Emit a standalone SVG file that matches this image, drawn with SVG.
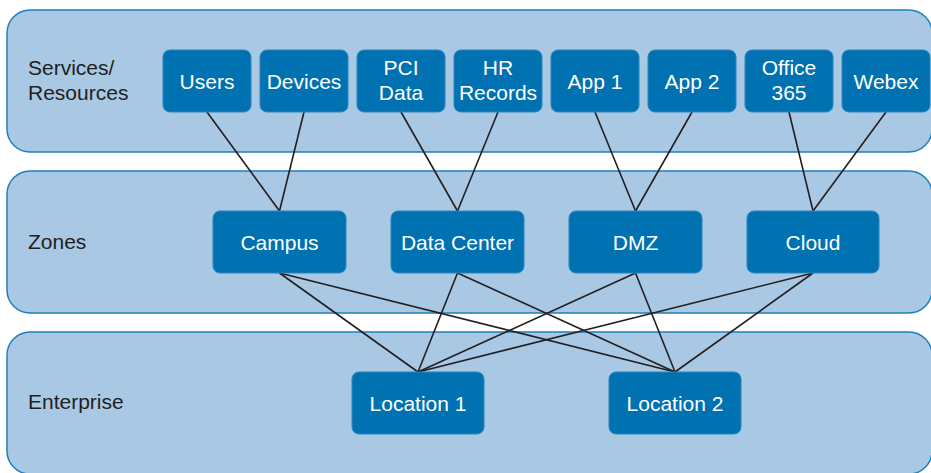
<svg xmlns="http://www.w3.org/2000/svg" width="931" height="473" viewBox="0 0 931 473">
<style>
.band{fill:#a8c8e4;stroke:#1f7fc0;stroke-width:1.5}
.node rect{fill:#0072b1;stroke:#2a85bf;stroke-width:1}
.node text{fill:#ffffff;font-family:"Liberation Sans",Arial,sans-serif;font-size:21px;text-anchor:middle}
.lbl{fill:#231f20;font-family:"Liberation Sans",Arial,sans-serif;font-size:21px}
.conn line{stroke:#231f20;stroke-width:1.6}
</style>
<rect width="931" height="473" fill="#ffffff"/>
<g id="bands">
<rect class="band" x="7" y="10" width="925" height="142" rx="23"/>
<rect class="band" x="7" y="171" width="925" height="142" rx="23"/>
<rect class="band" x="7" y="332" width="925" height="142" rx="23"/>
<text class="lbl" x="28" y="75">Services/</text>
<text class="lbl" x="28" y="100">Resources</text>
<text class="lbl" x="28" y="249">Zones</text>
<text class="lbl" x="28" y="409">Enterprise</text>
</g>
<g id="connectors" class="conn">
<line x1="207" y1="112" x2="279.5" y2="211"/>
<line x1="304" y1="112" x2="279.5" y2="211"/>
<line x1="401" y1="112" x2="457.5" y2="211"/>
<line x1="498" y1="112" x2="457.5" y2="211"/>
<line x1="595" y1="112" x2="635.5" y2="211"/>
<line x1="692" y1="112" x2="635.5" y2="211"/>
<line x1="789" y1="112" x2="813" y2="211"/>
<line x1="886" y1="112" x2="813" y2="211"/>
<line x1="279.5" y1="273" x2="418" y2="372"/>
<line x1="279.5" y1="273" x2="675" y2="372"/>
<line x1="457.5" y1="273" x2="418" y2="372"/>
<line x1="457.5" y1="273" x2="675" y2="372"/>
<line x1="635.5" y1="273" x2="418" y2="372"/>
<line x1="635.5" y1="273" x2="675" y2="372"/>
<line x1="813" y1="273" x2="418" y2="372"/>
<line x1="813" y1="273" x2="675" y2="372"/>
</g>
<g id="users" class="node"><rect x="163" y="50" width="88" height="62" rx="7"/><text x="207" y="88.5">Users</text></g>
<g id="devices" class="node"><rect x="260" y="50" width="88" height="62" rx="7"/><text x="304" y="88.5">Devices</text></g>
<g id="pci-data" class="node"><rect x="357" y="50" width="88" height="62" rx="7"/><text x="401" y="75">PCI</text><text x="401" y="100">Data</text></g>
<g id="hr-records" class="node"><rect x="454" y="50" width="88" height="62" rx="7"/><text x="498" y="75">HR</text><text x="498" y="100">Records</text></g>
<g id="app1" class="node"><rect x="551" y="50" width="88" height="62" rx="7"/><text x="595" y="88.5">App 1</text></g>
<g id="app2" class="node"><rect x="648" y="50" width="88" height="62" rx="7"/><text x="692" y="88.5">App 2</text></g>
<g id="office365" class="node"><rect x="745" y="50" width="88" height="62" rx="7"/><text x="789" y="75">Office</text><text x="789" y="100">365</text></g>
<g id="webex" class="node"><rect x="842" y="50" width="88" height="62" rx="7"/><text x="886" y="88.5">Webex</text></g>
<g id="campus" class="node"><rect x="213" y="211" width="133" height="62" rx="7"/><text x="279.5" y="249.5">Campus</text></g>
<g id="data-center" class="node"><rect x="391" y="211" width="133" height="62" rx="7"/><text x="457.5" y="249.5">Data Center</text></g>
<g id="dmz" class="node"><rect x="569" y="211" width="133" height="62" rx="7"/><text x="635.5" y="249.5">DMZ</text></g>
<g id="cloud" class="node"><rect x="747" y="211" width="132" height="62" rx="7"/><text x="813" y="249.5">Cloud</text></g>
<g id="location1" class="node"><rect x="352" y="372" width="132" height="62" rx="7"/><text x="418" y="410.5">Location 1</text></g>
<g id="location2" class="node"><rect x="609" y="372" width="132" height="62" rx="7"/><text x="675" y="410.5">Location 2</text></g>
</svg>
